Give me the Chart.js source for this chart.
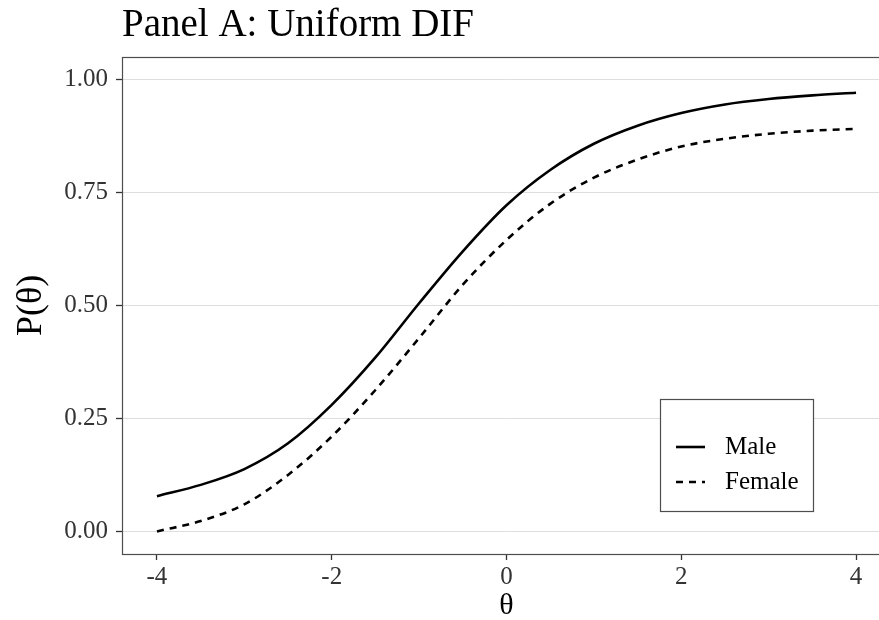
<!DOCTYPE html>
<html><head><meta charset="utf-8">
<script src="https://cdn.jsdelivr.net/npm/chart.js@4.4.0/dist/chart.umd.min.js"></script>
<style>
html,body{margin:0;padding:0;overflow:hidden;background:#fff;width:879px;height:620px}
#wrap{position:absolute;left:0;top:0;width:900px;height:620px}
</style>
</head><body><div id="wrap"><canvas id="c" width="900" height="620"></canvas></div>
<script>
const chartTitle = "Panel A: Uniform DIF";
const seriesLabels = ["Male", "Female"];
const thetaValues = [-4, -3.5, -3, -2.5, -2, -1.5, -1, -0.5, 0, 0.5, 1, 1.5, 2, 2.5, 3, 3.5, 4];
const maleValues = [0.078, 0.103, 0.138, 0.195, 0.280, 0.385, 0.505, 0.620, 0.722, 0.800, 0.858, 0.898, 0.926, 0.945, 0.957, 0.965, 0.971];
const femaleValues = [0.000, 0.023, 0.060, 0.125, 0.210, 0.313, 0.428, 0.546, 0.645, 0.725, 0.783, 0.823, 0.852, 0.869, 0.880, 0.887, 0.891];
const xTickValues = [-4, -2, 0, 2, 4];
const yTickValues = [0, 0.25, 0.5, 0.75, 1];
const xAxisTitle = "θ";
const yAxisTitle = "P(θ)";

const SERIF = '"Liberation Serif", "DejaVu Serif", serif';

const toPoints = vals => thetaValues.map((t, i) => ({x: t, y: vals[i]}));

const titlePlugin = {
  id: 'panelTitle',
  afterDraw(chart) {
    const ctx = chart.ctx;
    ctx.save();
    ctx.font = '39px ' + SERIF;
    ctx.fillStyle = '#000';
    ctx.textBaseline = 'alphabetic';
    ctx.textAlign = 'left';
    ctx.fillText(chartTitle, 122, 36);
    ctx.restore();
  }
};

const framePlugin = {
  id: 'panelFrame',
  afterDatasetsDraw(chart) {
    const a = chart.chartArea, ctx = chart.ctx;
    ctx.save();
    ctx.strokeStyle = '#4d4d4d';
    ctx.lineWidth = 1.2;
    ctx.strokeRect(a.left + 0.5, a.top + 0.5, a.right - a.left, a.bottom - a.top);
    ctx.restore();
  }
};

const legendPlugin = {
  id: 'boxLegend',
  afterDraw(chart) {
    const ctx = chart.ctx;
    const bx = 660, by = 399, bw = 153, bh = 112;
    ctx.save();
    ctx.fillStyle = '#fff';
    ctx.fillRect(bx, by, bw, bh);
    ctx.strokeStyle = '#4d4d4d';
    ctx.lineWidth = 1.2;
    ctx.strokeRect(bx + 0.5, by + 0.5, bw, bh);
    chart.data.datasets.forEach((ds, i) => {
      const y = 447 + i * 35;
      ctx.strokeStyle = ds.borderColor;
      ctx.lineWidth = ds.borderWidth;
      ctx.setLineDash(ds.borderDash || []);
      ctx.beginPath();
      ctx.moveTo(676, y);
      ctx.lineTo(705, y);
      ctx.stroke();
      ctx.setLineDash([]);
      ctx.fillStyle = '#000';
      ctx.font = '25px ' + SERIF;
      ctx.textBaseline = 'middle';
      ctx.textAlign = 'left';
      ctx.fillText(ds.label, 725, y);
    });
    ctx.restore();
  }
};

new Chart(document.getElementById('c'), {
  type: 'line',
  data: {
    datasets: [
      {label: seriesLabels[0], data: toPoints(maleValues), borderColor: '#000', borderWidth: 2.6,
       pointRadius: 0, fill: false, cubicInterpolationMode: 'monotone'},
      {label: seriesLabels[1], data: toPoints(femaleValues), borderColor: '#000', borderWidth: 2.6,
       borderDash: [7, 6], pointRadius: 0, fill: false, cubicInterpolationMode: 'monotone'}
    ]
  },
  options: {
    responsive: false,
    animation: false,
    devicePixelRatio: 1,
    layout: {padding: {left: 0, top: 57, right: 9, bottom: 0}},
    plugins: {legend: {display: false}, title: {display: false}, tooltip: {enabled: false}},
    scales: {
      x: {
        type: 'linear', min: -4.4, max: 4.4,
        afterBuildTicks: s => { s.ticks = xTickValues.map(v => ({value: v})); },
        afterFit: s => { s.height = 66; },
        grid: {drawOnChartArea: false, drawTicks: true, tickLength: 6, tickColor: '#333', tickWidth: 1.3},
        border: {display: false},
        ticks: {font: {family: SERIF, size: 25}, color: '#333', padding: 2, maxRotation: 0,
                callback: v => String(v)},
        title: {display: true, text: xAxisTitle, font: {family: SERIF, size: 30, lineHeight: 0.9},
                color: '#000', padding: {top: 0, bottom: 0}}
      },
      y: {
        min: -0.05, max: 1.05,
        afterBuildTicks: s => { s.ticks = yTickValues.map(v => ({value: v})); },
        afterFit: s => { s.width = 122; },
        grid: {color: '#dedede', lineWidth: 1, drawTicks: true, tickLength: 6, tickColor: '#333', tickWidth: 1.3},
        border: {display: false},
        ticks: {font: {family: SERIF, size: 25}, color: '#333', padding: 8,
                callback: v => Number(v).toFixed(2)},
        title: {display: true, text: yAxisTitle, font: {family: SERIF, size: 36, lineHeight: 1.2},
                color: '#000', padding: {top: 10, bottom: 0}}
      }
    }
  },
  plugins: [titlePlugin, framePlugin, legendPlugin]
});
</script>
</body></html>
